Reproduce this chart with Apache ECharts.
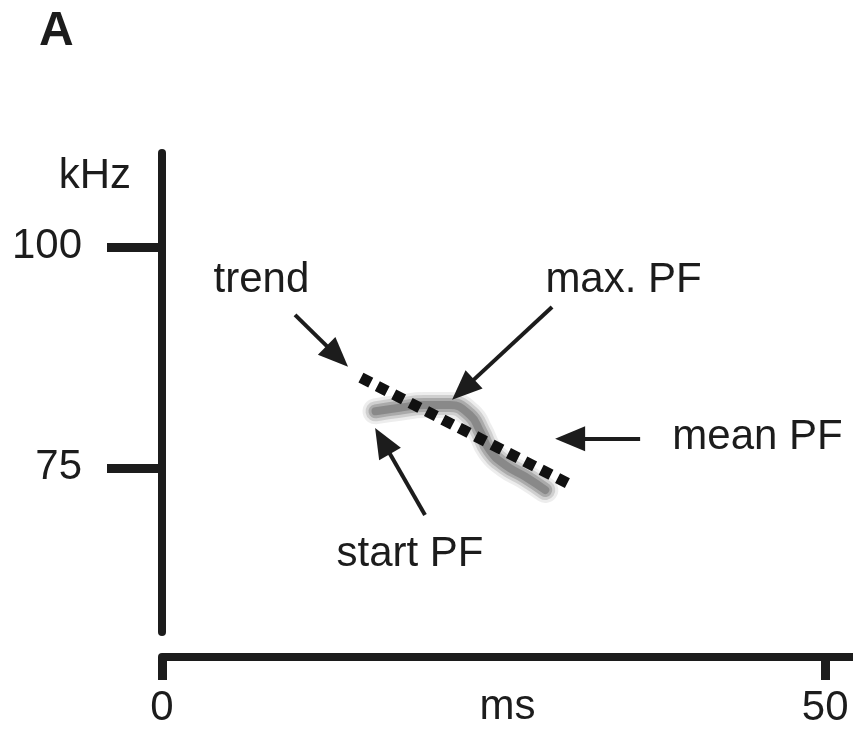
<!DOCTYPE html>
<html><head><meta charset="utf-8">
<script src="https://cdn.jsdelivr.net/npm/echarts@6/dist/echarts.min.js"></script>
<style>html,body{margin:0;padding:0;background:#fff}#c{width:853px;height:732px}</style>
</head><body><div id="c"></div>
<script>
// Axis ticks
const xTicks = [0, 50];
const yTicks = [75, 100];
// Call trace (spectrogram smear): time ms, frequency kHz
const callTime = [16.1, 17.9, 19.8, 21.7, 23.2, 24.0, 24.7, 25.9, 27.4, 28.9];
const callFreq = [81.4, 81.8, 82.1, 82.1, 81.0, 79.1, 77.0, 75.3, 74.0, 72.5];
// Trend line (dotted)
const trendTime = [15.0, 30.8];
const trendFreq = [85.2, 73.1];
// Annotation labels
const labelText = ['trend', 'max. PF', 'mean PF', 'start PF'];
const labelTime = [7.5, 34.8, 44.9, 18.7];
const labelFreq = [96.2, 96.2, 78.5, 65.2];
// Annotation arrows: tail -> head
const arrowTailTime = [10.03, 29.41, 36.05, 19.83];
const arrowTailFreq = [92.3, 93.2, 78.3, 69.68];
const arrowHeadTime = [13.22, 22.7, 30.77, 16.63];
const arrowHeadFreq = [87.61, 83.85, 78.3, 78.05];

const ink = '#1c1c1c';
const font = "'Liberation Sans', Arial, sans-serif";
const callData = callTime.map((t, i) => [t, callFreq[i]]);

function smear(width, color) {
  return {
    type: 'line', smooth: true, symbol: 'none', silent: true, data: callData,
    lineStyle: {color: color, width: width, cap: 'round', join: 'round'}, z: 2
  };
}

const chart = echarts.init(document.getElementById('c'), null, {renderer: 'canvas'});
chart.setOption({
  animation: false,
  backgroundColor: '#fff',
  title: {text: 'A', left: 34, top: 3, textStyle: {fontFamily: font, fontSize: 48, fontWeight: 'bold', color: ink}},
  grid: {left: 162, top: 153, width: 691, height: 479, containLabel: false, outerBoundsMode: 'none'},
  xAxis: {
    type: 'value', min: 0, max: 52.1, offset: 25,
    name: 'ms', nameLocation: 'middle', nameGap: 29, nameMoveOverlap: false,
    nameTextStyle: {fontFamily: font, fontSize: 42, color: ink, verticalAlign: 'top'},
    axisLine: {show: true, lineStyle: {color: ink, width: 8}},
    axisTick: {show: true, customValues: xTicks, length: 23, lineStyle: {color: ink, width: 9}},
    axisLabel: {customValues: xTicks, margin: 30, fontFamily: font, fontSize: 42, color: ink},
    splitLine: {show: false}
  },
  yAxis: {
    type: 'value', min: 56.45, max: 110.6,
    name: 'kHz', nameLocation: 'end', nameGap: -23, nameMoveOverlap: false,
    nameTextStyle: {fontFamily: font, fontSize: 42, color: ink, align: 'right', verticalAlign: 'middle', padding: [0, 31, 0, 0]},
    axisLine: {show: true, lineStyle: {color: ink, width: 8}},
    axisTick: {show: true, customValues: yTicks, length: 55, lineStyle: {color: ink, width: 9}},
    axisLabel: {customValues: yTicks, margin: 80, fontFamily: font, fontSize: 42, color: ink},
    splitLine: {show: false}
  },
  series: [
    smear(26, 'rgba(175,175,175,0.22)'),
    smear(20, 'rgba(140,140,140,0.3)'),
    smear(14, 'rgba(110,110,110,0.38)'),
    smear(8, 'rgba(85,85,85,0.38)'),
    {
      type: 'line', symbol: 'none', silent: true,
      data: trendTime.map((t, i) => [t, trendFreq[i]]),
      lineStyle: {color: '#111', width: 11, type: [11, 7.4], cap: 'butt'},
      z: 3
    },
    {
      type: 'scatter', symbolSize: 0, silent: true,
      itemStyle: {opacity: 1},
      data: labelText.map((s, i) => ({value: [labelTime[i], labelFreq[i]], name: s})),
      label: {show: true, position: 'inside', formatter: p => p.name, fontFamily: font, fontSize: 42, color: ink, opacity: 1, textBorderWidth: 0, align: 'center', verticalAlign: 'middle'},
      markLine: {
        silent: true, symbol: ['none', 'triangle'], symbolSize: [25, 30],
        label: {show: false},
        lineStyle: {color: ink, width: 4, type: 'solid', opacity: 1},
        itemStyle: {color: ink, opacity: 1},
        data: arrowTailTime.map((t, i) => [
          {coord: [t, arrowTailFreq[i]]},
          {coord: [arrowHeadTime[i], arrowHeadFreq[i]]}
        ])
      },
      z: 4
    }
  ]
});
</script></body></html>
